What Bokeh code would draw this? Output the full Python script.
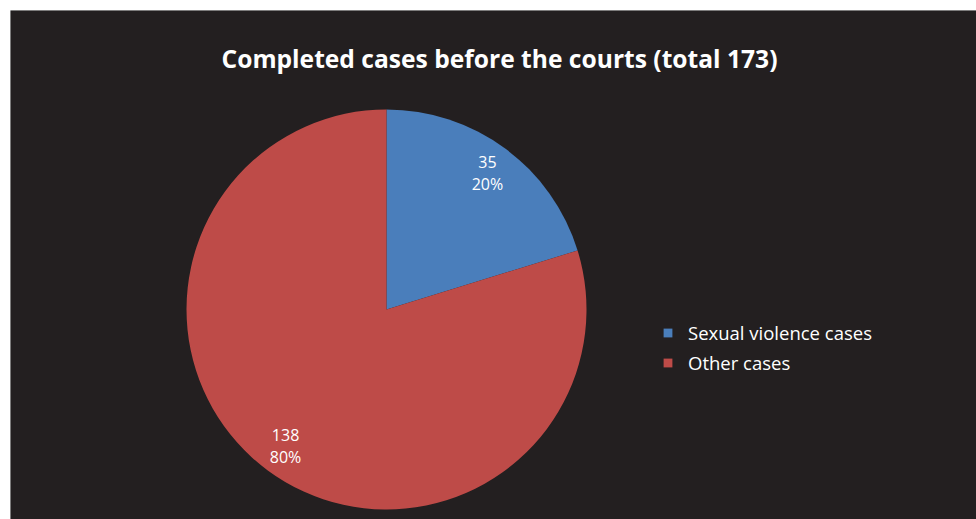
import math
from bokeh.plotting import figure
from bokeh.models import ColumnDataSource, Legend, LegendItem, Range1d, Span
from bokeh.embed import file_html
from bokeh.resources import INLINE

title = "Completed cases before the courts (total 173)"
categories = ["Sexual violence cases", "Other cases"]
values = [35, 138]
colors = ["#4a7ebb", "#be4b48"]

total = sum(values)
cx, cy, r = 376, 210, 200
starts, ends, lx, ly, labels = [], [], [], [], []
acc = 0.0
for v in values:
    a0 = acc / total * 2 * math.pi
    acc += v
    a1 = acc / total * 2 * math.pi
    # clockwise from 12 o'clock -> bokeh ccw from +x
    starts.append(math.pi / 2 - a1)
    ends.append(math.pi / 2 - a0)
    mid = (a0 + a1) / 2
    lx.append(cx + 0.85 * r * math.sin(mid))
    ly.append(cy + 0.85 * r * math.cos(mid))
    labels.append(f"{v}\n{round(v / total * 100)}%")

src = ColumnDataSource(dict(cat=categories, val=values, color=colors,
                            start=starts, end=ends, lx=lx, ly=ly, label=labels))

p = figure(width=976, height=519, output_backend="svg", toolbar_location=None,
           x_range=Range1d(0, 966), y_range=Range1d(0, 509),
           min_border_left=10, min_border_top=10, min_border_right=0, min_border_bottom=0)
p.axis.visible = False
p.grid.visible = False
p.border_fill_color = "white"
p.background_fill_color = "#231f20"
p.outline_line_color = None

# grey edge on the top and left of the dark panel
p.add_layout(Span(location=509, dimension="width", line_color="#6d6d6d", line_width=1))
p.add_layout(Span(location=0, dimension="height", line_color="#6d6d6d", line_width=1))

wedges = []
for i in range(len(values)):
    w = p.wedge(x=cx, y=cy, radius=r, start_angle=starts[i], end_angle=ends[i],
                fill_color=colors[i], line_color=None)
    wedges.append(w)

p.text(x="lx", y="ly", text="label", source=src, text_color="white",
       text_font_size="16px", text_font={"value": "Open Sans"},
       text_align="center", text_baseline="middle", text_line_height=1.0)

p.text(x=[489], y=[461], text=[title], text_color="white", text_font_size="24.6px",
       text_font={"value": "Open Sans"}, text_font_style="bold",
       text_align="center", text_baseline="alphabetic")

legend = Legend(items=[LegendItem(label=categories[i], renderers=[wedges[i]]) for i in range(len(values))],
                location=(652, 144), orientation="vertical",
                glyph_width=11, glyph_height=11, label_standoff=15, spacing=4,
                label_height=26, padding=0, margin=0,
                label_text_color="white", label_text_font_size="18.5px",
                label_text_font="Open Sans",
                border_line_alpha=0, background_fill_alpha=0)
p.add_layout(legend)

open("out.html", "w").write(file_html(p, INLINE))
